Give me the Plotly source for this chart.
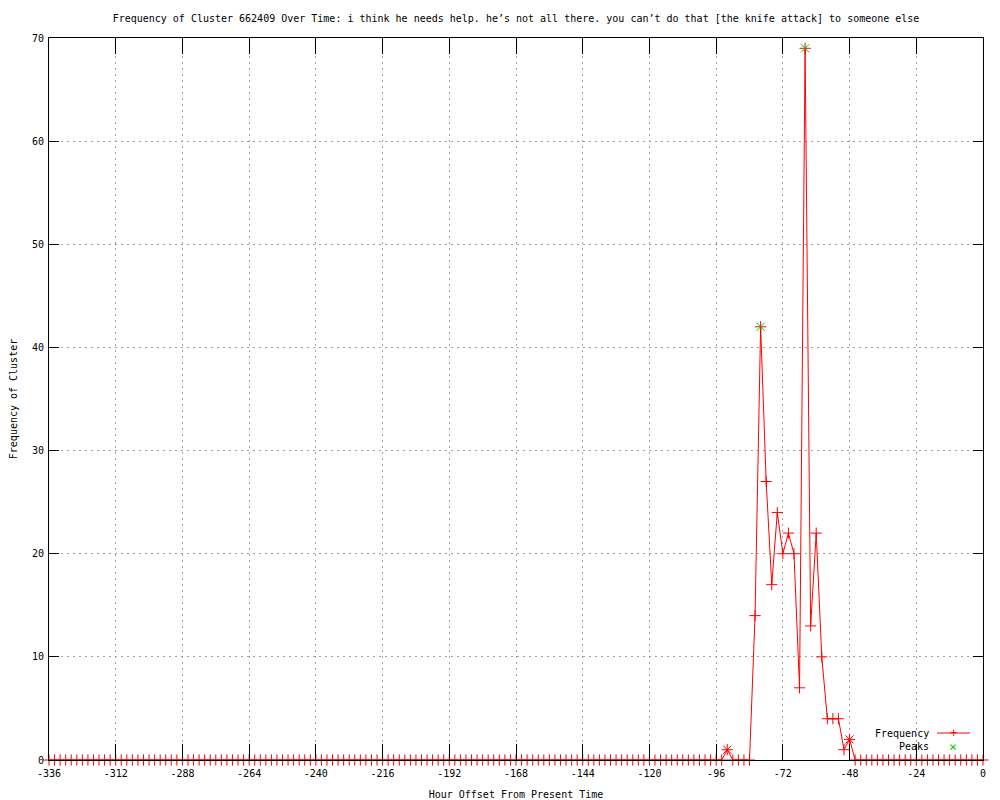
import plotly.graph_objects as go

# ---- data ----
hours = list(range(-336, 1, 2))
frequency = ([0] * 122
             + [1, 0, 0, 0, 0, 14, 42, 27, 17, 24, 20, 22, 20, 7, 69, 13, 22, 10, 4, 4, 4, 1, 2]
             + [0] * 24)
peak_hours = [-92, -80, -64, -48]
peak_values = [1, 42, 69, 2]
peak_colors = ["#ff0000", "#00c000", "#00c000", "#ff0000"]

x_tick_vals = list(range(-336, 1, 24))
x_tick_labels = [str(v) for v in x_tick_vals]
y_tick_vals = list(range(0, 71, 10))
y_tick_labels = [str(v) for v in y_tick_vals]

title_text = ("Frequency of Cluster 662409 Over Time: i think he needs help. "
              "he\u2019s not all there. you can\u2019t do that [the knife attack] to someone else")

FONT = "DejaVu Sans Mono"
RED = "#ff0000"
GREEN = "#00c000"

fig = go.Figure()
fig.add_trace(go.Scatter(
    x=hours, y=frequency, mode="lines+markers", name="Frequency",
    line=dict(color=RED, width=1),
    marker=dict(symbol="cross-thin", size=8, line=dict(color=RED, width=1), color=RED),
    cliponaxis=False, showlegend=False,
))
fig.add_trace(go.Scatter(
    x=peak_hours, y=peak_values, mode="markers", name="Peaks",
    marker=dict(symbol="x-thin", size=8, line=dict(color=peak_colors, width=1)),
    cliponaxis=False, showlegend=False,
))

# legend (gnuplot style: text then sample)
lx0, lx1, lxm = (937 - 49) / 934, (970 - 49) / 934, (953 - 49) / 934
ly1 = (760 - 733) / 722
ly2 = (760 - 746) / 722
ltx = (931 - 49) / 934
fig.add_shape(type="line", xref="paper", yref="paper", x0=lx0, x1=lx1, y0=ly1, y1=ly1,
              line=dict(color=RED, width=1))
fig.add_annotation(xref="paper", yref="paper", x=ltx, y=ly1, text="Frequency",
                   showarrow=False, xanchor="right", yanchor="middle",
                   font=dict(family=FONT, size=10, color="black"))
fig.add_annotation(xref="paper", yref="paper", x=ltx, y=ly2, text="Peaks",
                   showarrow=False, xanchor="right", yanchor="middle",
                   font=dict(family=FONT, size=10, color="black"))
fig.add_annotation(xref="paper", yref="paper", x=lxm, y=ly1, text="+",
                   showarrow=False, xanchor="center", yanchor="middle",
                   font=dict(family=FONT, size=12, color=RED))
fig.add_annotation(xref="paper", yref="paper", x=lxm, y=ly2, text="\u00d7",
                   showarrow=False, xanchor="center", yanchor="middle",
                   font=dict(family=FONT, size=13, color=GREEN))

fig.update_layout(
    width=992, height=792,
    margin=dict(l=41, r=17, t=30, b=40, autoexpand=False),
    paper_bgcolor="white", plot_bgcolor="white",
    font=dict(family=FONT, size=10, color="black"),
    title=dict(text=title_text, x=0.5, xref="paper", y=1 - 10 / 792, yref="container",
               xanchor="center", yanchor="middle", font=dict(family=FONT, size=10)),
    showlegend=False,
)
fig.update_xaxes(
    range=[-336, 0], tickmode="array", tickvals=x_tick_vals, ticktext=x_tick_labels,
    ticks="inside", ticklen=16, tickcolor="black", tickwidth=1, automargin=False,
    tickfont=dict(family=FONT, size=10), ticklabelstandoff=4,
    showline=True, linecolor="black", linewidth=1, mirror="ticks",
    showgrid=True, gridcolor="#a0a0a0", griddash="2px,4px", gridwidth=1, zeroline=False,
    title=dict(text="Hour Offset From Present Time", standoff=12, font=dict(family=FONT, size=10)),
)
fig.update_yaxes(
    range=[0, 70], tickmode="array", tickvals=y_tick_vals, ticktext=y_tick_labels,
    ticks="inside", ticklen=10, tickcolor="black", tickwidth=1, automargin=False,
    tickfont=dict(family=FONT, size=10), ticklabelstandoff=2,
    showline=True, linecolor="black", linewidth=1, mirror="ticks",
    showgrid=True, gridcolor="#a0a0a0", griddash="2px,4px", gridwidth=1, zeroline=False,
    title=dict(text="Frequency of Cluster", standoff=14, font=dict(family=FONT, size=10)),
)

fig.write_html("out.html")
